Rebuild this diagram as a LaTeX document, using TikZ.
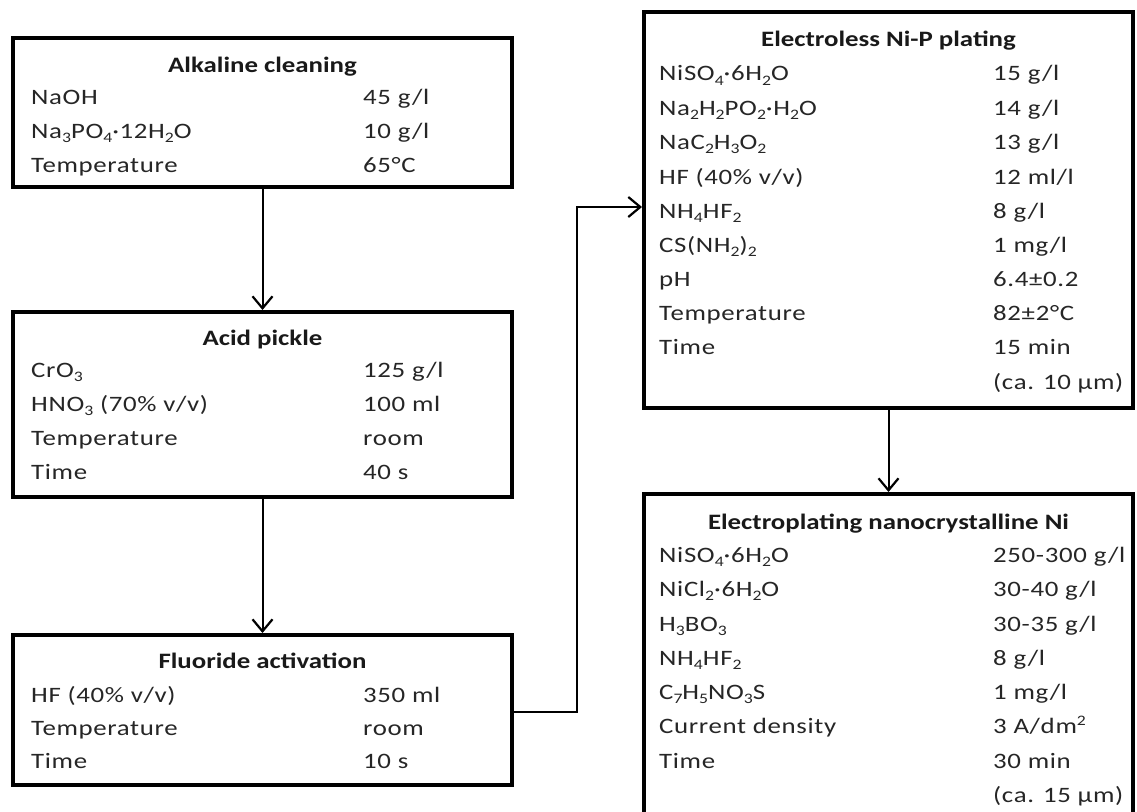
\documentclass[tikz,border=0pt]{standalone}
\usepackage{fontspec}
\setmainfont{Carlito}[FakeStretch=1.22, UprightFeatures={LetterSpace=3}]
\usetikzlibrary{arrows.meta}
\newcommand\sbs[1]{\raisebox{-4.5pt}{\fontsize{14.5}{14.5}\selectfont #1}}
\newcommand\sps[1]{\raisebox{8pt}{\fontsize{14.5}{14.5}\selectfont #1}}
\tikzset{
  box/.style={draw=black, line width=4pt, fill=white, inner sep=0pt},
  ttl/.style={anchor=base, inner sep=0pt, font=\fontsize{22}{26}\selectfont\bfseries, text=black!90},
  lbl/.style={anchor=base west, inner sep=0pt, font=\fontsize{22}{26}\selectfont, text=black!85},
  arr/.style={draw=black, line width=2pt, -{Straight Barb[length=12pt,width=20pt,line width=2.2pt]}},
}
\begin{document}
\begin{tikzpicture}[x=1pt,y=-1pt]
\clip (0,0) rectangle (1137,811);
\fill[white] (0,0) rectangle (1137,811);
% boxes
\node[box, minimum width=499pt, minimum height=149pt] (b1) at (262.5,112.5) {};
\node[box, minimum width=499pt, minimum height=185pt] (b2) at (262.5,404.5) {};
\node[box, minimum width=499pt, minimum height=150pt] (b3) at (262.5,710) {};
\node[box, minimum width=489pt, minimum height=396pt] (b4) at (888.5,210) {};
\node[box, minimum width=489pt, minimum height=360pt] (b5) at (888.5,674) {};
% box 1
\node[ttl] (t1) at (262.5,72) {Alkaline cleaning};
\node[lbl] (a1) at (31,104) {NaOH};
\node[lbl] (a2) at (31,138) {Na\sbs{3}PO\sbs{4}·12H\sbs{2}O};
\node[lbl] (a3) at (31,172) {Temperature};
\node[lbl] (av1) at (363,104) {45 g/l};
\node[lbl] (av2) at (363,138) {10 g/l};
\node[lbl] (av3) at (363,172) {65°C};
% box 2
\node[ttl] (t2) at (262.5,345) {Acid pickle};
\node[lbl] (p1) at (31,377) {CrO\sbs{3}};
\node[lbl] (p2) at (31,411) {HNO\sbs{3} (70\% v/v)};
\node[lbl] (p3) at (31,445) {Temperature};
\node[lbl] (p4) at (31,479) {Time};
\node[lbl] (pv1) at (363,377) {125 g/l};
\node[lbl] (pv2) at (363,411) {100 ml};
\node[lbl] (pv3) at (363,445) {room};
\node[lbl] (pv4) at (363,479) {40 s};
% box 3
\node[ttl] (t3) at (262.5,668) {Fluoride activation};
\node[lbl] (f1) at (31,702) {HF (40\% v/v)};
\node[lbl] (f2) at (31,735) {Temperature};
\node[lbl] (f3) at (31,768) {Time};
\node[lbl] (fv1) at (363,702) {350 ml};
\node[lbl] (fv2) at (363,735) {room};
\node[lbl] (fv3) at (363,768) {10 s};
% box 4
\node[ttl] (t4) at (888.5,46) {Electroless Ni-P plating};
\node[lbl] (e1) at (659,80.5) {NiSO\sbs{4}·6H\sbs{2}O};
\node[lbl] (e2) at (659,115) {Na\sbs{2}H\sbs{2}PO\sbs{2}·H\sbs{2}O};
\node[lbl] (e3) at (659,149) {NaC\sbs{2}H\sbs{3}O\sbs{2}};
\node[lbl] (e4) at (659,184) {HF (40\% v/v)};
\node[lbl] (e5) at (659,218) {NH\sbs{4}HF\sbs{2}};
\node[lbl] (e6) at (659,252) {CS(NH\sbs{2})\sbs{2}};
\node[lbl] (e7) at (659,286) {pH};
\node[lbl] (e8) at (659,320) {Temperature};
\node[lbl] (e9) at (659,354) {Time};
\node[lbl] (ev1) at (993,80.5) {15 g/l};
\node[lbl] (ev2) at (993,115) {14 g/l};
\node[lbl] (ev3) at (993,149) {13 g/l};
\node[lbl] (ev4) at (993,184) {12 ml/l};
\node[lbl] (ev5) at (993,218) {8 g/l};
\node[lbl] (ev6) at (993,252) {1 mg/l};
\node[lbl] (ev7) at (993,286) {6.4±0.2};
\node[lbl] (ev8) at (993,320) {82±2°C};
\node[lbl] (ev9) at (993,354) {15 min};
\node[lbl] (ev10) at (993,389) {(ca. 10 µm)};
% box 5
\node[ttl] (t5) at (888.5,529) {Electroplating nanocrystalline Ni};
\node[lbl] (n1) at (659,562) {NiSO\sbs{4}·6H\sbs{2}O};
\node[lbl] (n2) at (659,596) {NiCl\sbs{2}·6H\sbs{2}O};
\node[lbl] (n3) at (659,631) {H\sbs{3}BO\sbs{3}};
\node[lbl] (n4) at (659,665) {NH\sbs{4}HF\sbs{2}};
\node[lbl] (n5) at (659,699) {C\sbs{7}H\sbs{5}NO\sbs{3}S};
\node[lbl] (n6) at (659,733) {Current density};
\node[lbl] (n7) at (659,768) {Time};
\node[lbl] (nv1) at (993,562) {250-300 g/l};
\node[lbl] (nv2) at (993,596) {30-40 g/l};
\node[lbl] (nv3) at (993,631) {30-35 g/l};
\node[lbl] (nv4) at (993,665) {8 g/l};
\node[lbl] (nv5) at (993,699) {1 mg/l};
\node[lbl] (nv6) at (993,733) {3 A/dm\sps{2}};
\node[lbl] (nv7) at (993,768) {30 min};
\node[lbl] (nv8) at (993,802) {(ca. 15 µm)};
% connectors
\coordinate (c1) at (577,712);
\coordinate (c2) at (577,207);
\draw[arr] (b1.south) -- (b2.north);
\draw[arr] (b2.south) -- (b3.north);
\draw[arr] (b3.east |- c1) -- (c1) -- (c2) -- (b4.west |- c2);
\draw[arr] (b4.south) -- (b5.north);
\end{tikzpicture}
\end{document}
